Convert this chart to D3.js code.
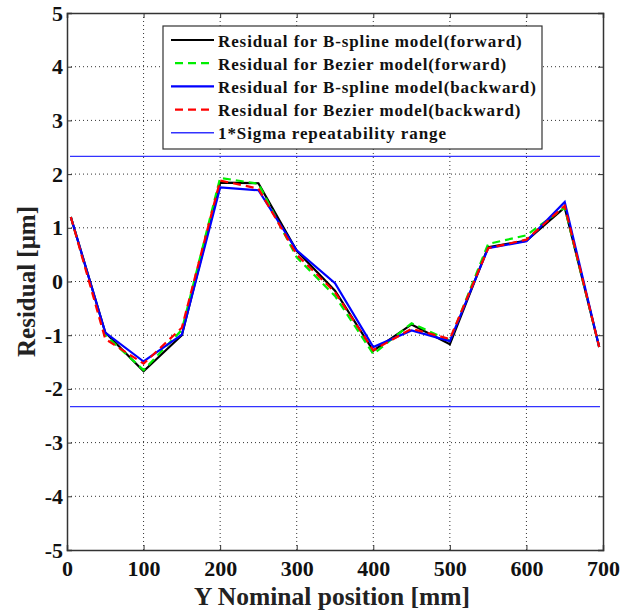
<!DOCTYPE html>
<html>
<head>
<meta charset="utf-8">
<script src="https://cdn.jsdelivr.net/npm/d3@7"></script>
<style>
body { margin: 0; background: #fff; }
text { font-family: "Liberation Serif", "Times New Roman", serif; font-weight: bold; }
</style>
</head>
<body>
<script>
// positions along Y [mm]
var positions = [5, 50, 100, 150, 200, 250, 300, 350, 400, 450, 500, 550, 600, 650, 695];

var bsplineFwd  = [1.2, -0.95, -1.67, -1.0, 1.84, 1.83, 0.57, -0.17, -1.29, -0.8, -1.17, 0.64, 0.76, 1.38, -1.22];
var bezierFwd   = [1.2, -1.0, -1.65, -0.9, 1.93, 1.82, 0.45, -0.27, -1.35, -0.78, -1.1, 0.7, 0.86, 1.38, -1.22];
var bsplineBwd  = [1.2, -0.95, -1.49, -0.99, 1.75, 1.70, 0.58, -0.03, -1.22, -0.91, -1.11, 0.62, 0.75, 1.48, -1.22];
var bezierBwd   = [1.2, -1.07, -1.53, -0.86, 1.88, 1.73, 0.5, -0.2, -1.28, -0.88, -1.07, 0.62, 0.78, 1.41, -1.22];
var sigma = 2.33;

var xTicks = [0, 100, 200, 300, 400, 500, 600, 700];
var yTicks = [-5, -4, -3, -2, -1, 0, 1, 2, 3, 4, 5];

var seriesNames = [
  "Residual for B-spline model(forward)",
  "Residual for Bezier model(forward)",
  "Residual for B-spline model(backward)",
  "Residual for Bezier model(backward)",
  "1*Sigma repeatability range"
];

var W = 633, H = 612;
var pl = 67, pr = 603, pt = 13, pb = 550;

var svg = d3.select("body").append("svg").attr("width", W).attr("height", H);

var x = d3.scaleLinear().domain([0, 700]).range([pl, pr]);
var y = d3.scaleLinear().domain([-5, 5]).range([pb, pt]);

// grid
var grid = svg.append("g");
grid.selectAll(".gx").data(xTicks.slice(1, -1)).enter().append("line")
  .attr("x1", d => x(d)).attr("x2", d => x(d))
  .attr("y1", pt).attr("y2", pb)
  .attr("stroke", "#333").attr("stroke-width", 1).attr("stroke-dasharray", "1,3");
grid.selectAll(".gy").data(yTicks.slice(1, -1)).enter().append("line")
  .attr("y1", d => y(d)).attr("y2", d => y(d))
  .attr("x1", pl).attr("x2", pr)
  .attr("stroke", "#333").attr("stroke-width", 1).attr("stroke-dasharray", "1,3");

// axes (ticks inward)
var xAxis = svg.append("g").attr("transform", "translate(0," + pb + ")")
  .call(d3.axisBottom(x).tickValues(xTicks).tickSize(-5).tickPadding(10));
var yAxis = svg.append("g").attr("transform", "translate(" + pl + ",0)")
  .call(d3.axisLeft(y).tickValues(yTicks).tickSize(-5).tickPadding(4).tickFormat(d => d < 0 ? "-" + Math.abs(d) : d));
svg.append("g").attr("transform", "translate(0," + pt + ")")
  .call(d3.axisTop(x).tickValues(xTicks).tickSize(-5).tickFormat(""));
svg.append("g").attr("transform", "translate(" + pr + ",0)")
  .call(d3.axisRight(y).tickValues(yTicks).tickSize(-5).tickFormat(""));

svg.selectAll(".domain").attr("stroke", "#333").attr("stroke-width", 1.5);
svg.selectAll(".tick line").attr("stroke", "#333");
xAxis.selectAll("text").attr("font-size", 22).attr("fill", "#111").attr("dy", "0.72em");
yAxis.selectAll("text").attr("font-size", 22).attr("fill", "#111");

// sigma lines
[sigma, -sigma].forEach(function (s) {
  svg.append("line")
    .attr("x1", x(0) + 3).attr("x2", x(700) - 3)
    .attr("y1", y(s)).attr("y2", y(s))
    .attr("stroke", "#3333ff").attr("stroke-width", 1.2);
});

// series
var series = [
  { vals: bsplineFwd, color: "#000000", dash: null },
  { vals: bezierFwd,  color: "#00ee00", dash: "8,5" },
  { vals: bsplineBwd, color: "#0000ff", dash: null },
  { vals: bezierBwd,  color: "#ff0000", dash: "8,5" }
];

var line = d3.line().x((d, i) => x(positions[i])).y(d => y(d));

series.forEach(function (s) {
  svg.append("path")
    .attr("d", line(s.vals))
    .attr("fill", "none")
    .attr("stroke", s.color)
    .attr("stroke-width", 2.2)
    .attr("stroke-dasharray", s.dash);
});

// legend
var lg = svg.append("g");
lg.append("rect")
  .attr("x", 163).attr("y", 26).attr("width", 379).attr("height", 123)
  .attr("fill", "#fff").attr("stroke", "#333").attr("stroke-width", 1.2);

var legendItems = series.concat([{ color: "#3333ff", dash: null, thin: true }]);
legendItems.forEach(function (s, i) {
  var ly = 40 + i * 23.2;
  lg.append("line")
    .attr("x1", s.dash ? 175 : 171).attr("x2", 214)
    .attr("y1", ly).attr("y2", ly)
    .attr("stroke", s.color).attr("stroke-width", s.thin ? 1.5 : 2.2)
    .attr("stroke-dasharray", s.dash);
  lg.append("text")
    .attr("x", 218).attr("y", ly + 6.5)
    .attr("font-size", 17).attr("letter-spacing", 0.9).attr("fill", "#111")
    .text(seriesNames[i]);
});

// axis titles
svg.append("text")
  .attr("x", 332).attr("y", 605)
  .attr("text-anchor", "middle").attr("font-size", 25.5).attr("fill", "#222")
  .text("Y Nominal position [mm]");
svg.append("text")
  .attr("transform", "translate(35," + ((pt + pb) / 2) + ") rotate(-90)")
  .attr("text-anchor", "middle").attr("font-size", 25).attr("fill", "#222")
  .text("Residual [μm]");
</script>
</body>
</html>
